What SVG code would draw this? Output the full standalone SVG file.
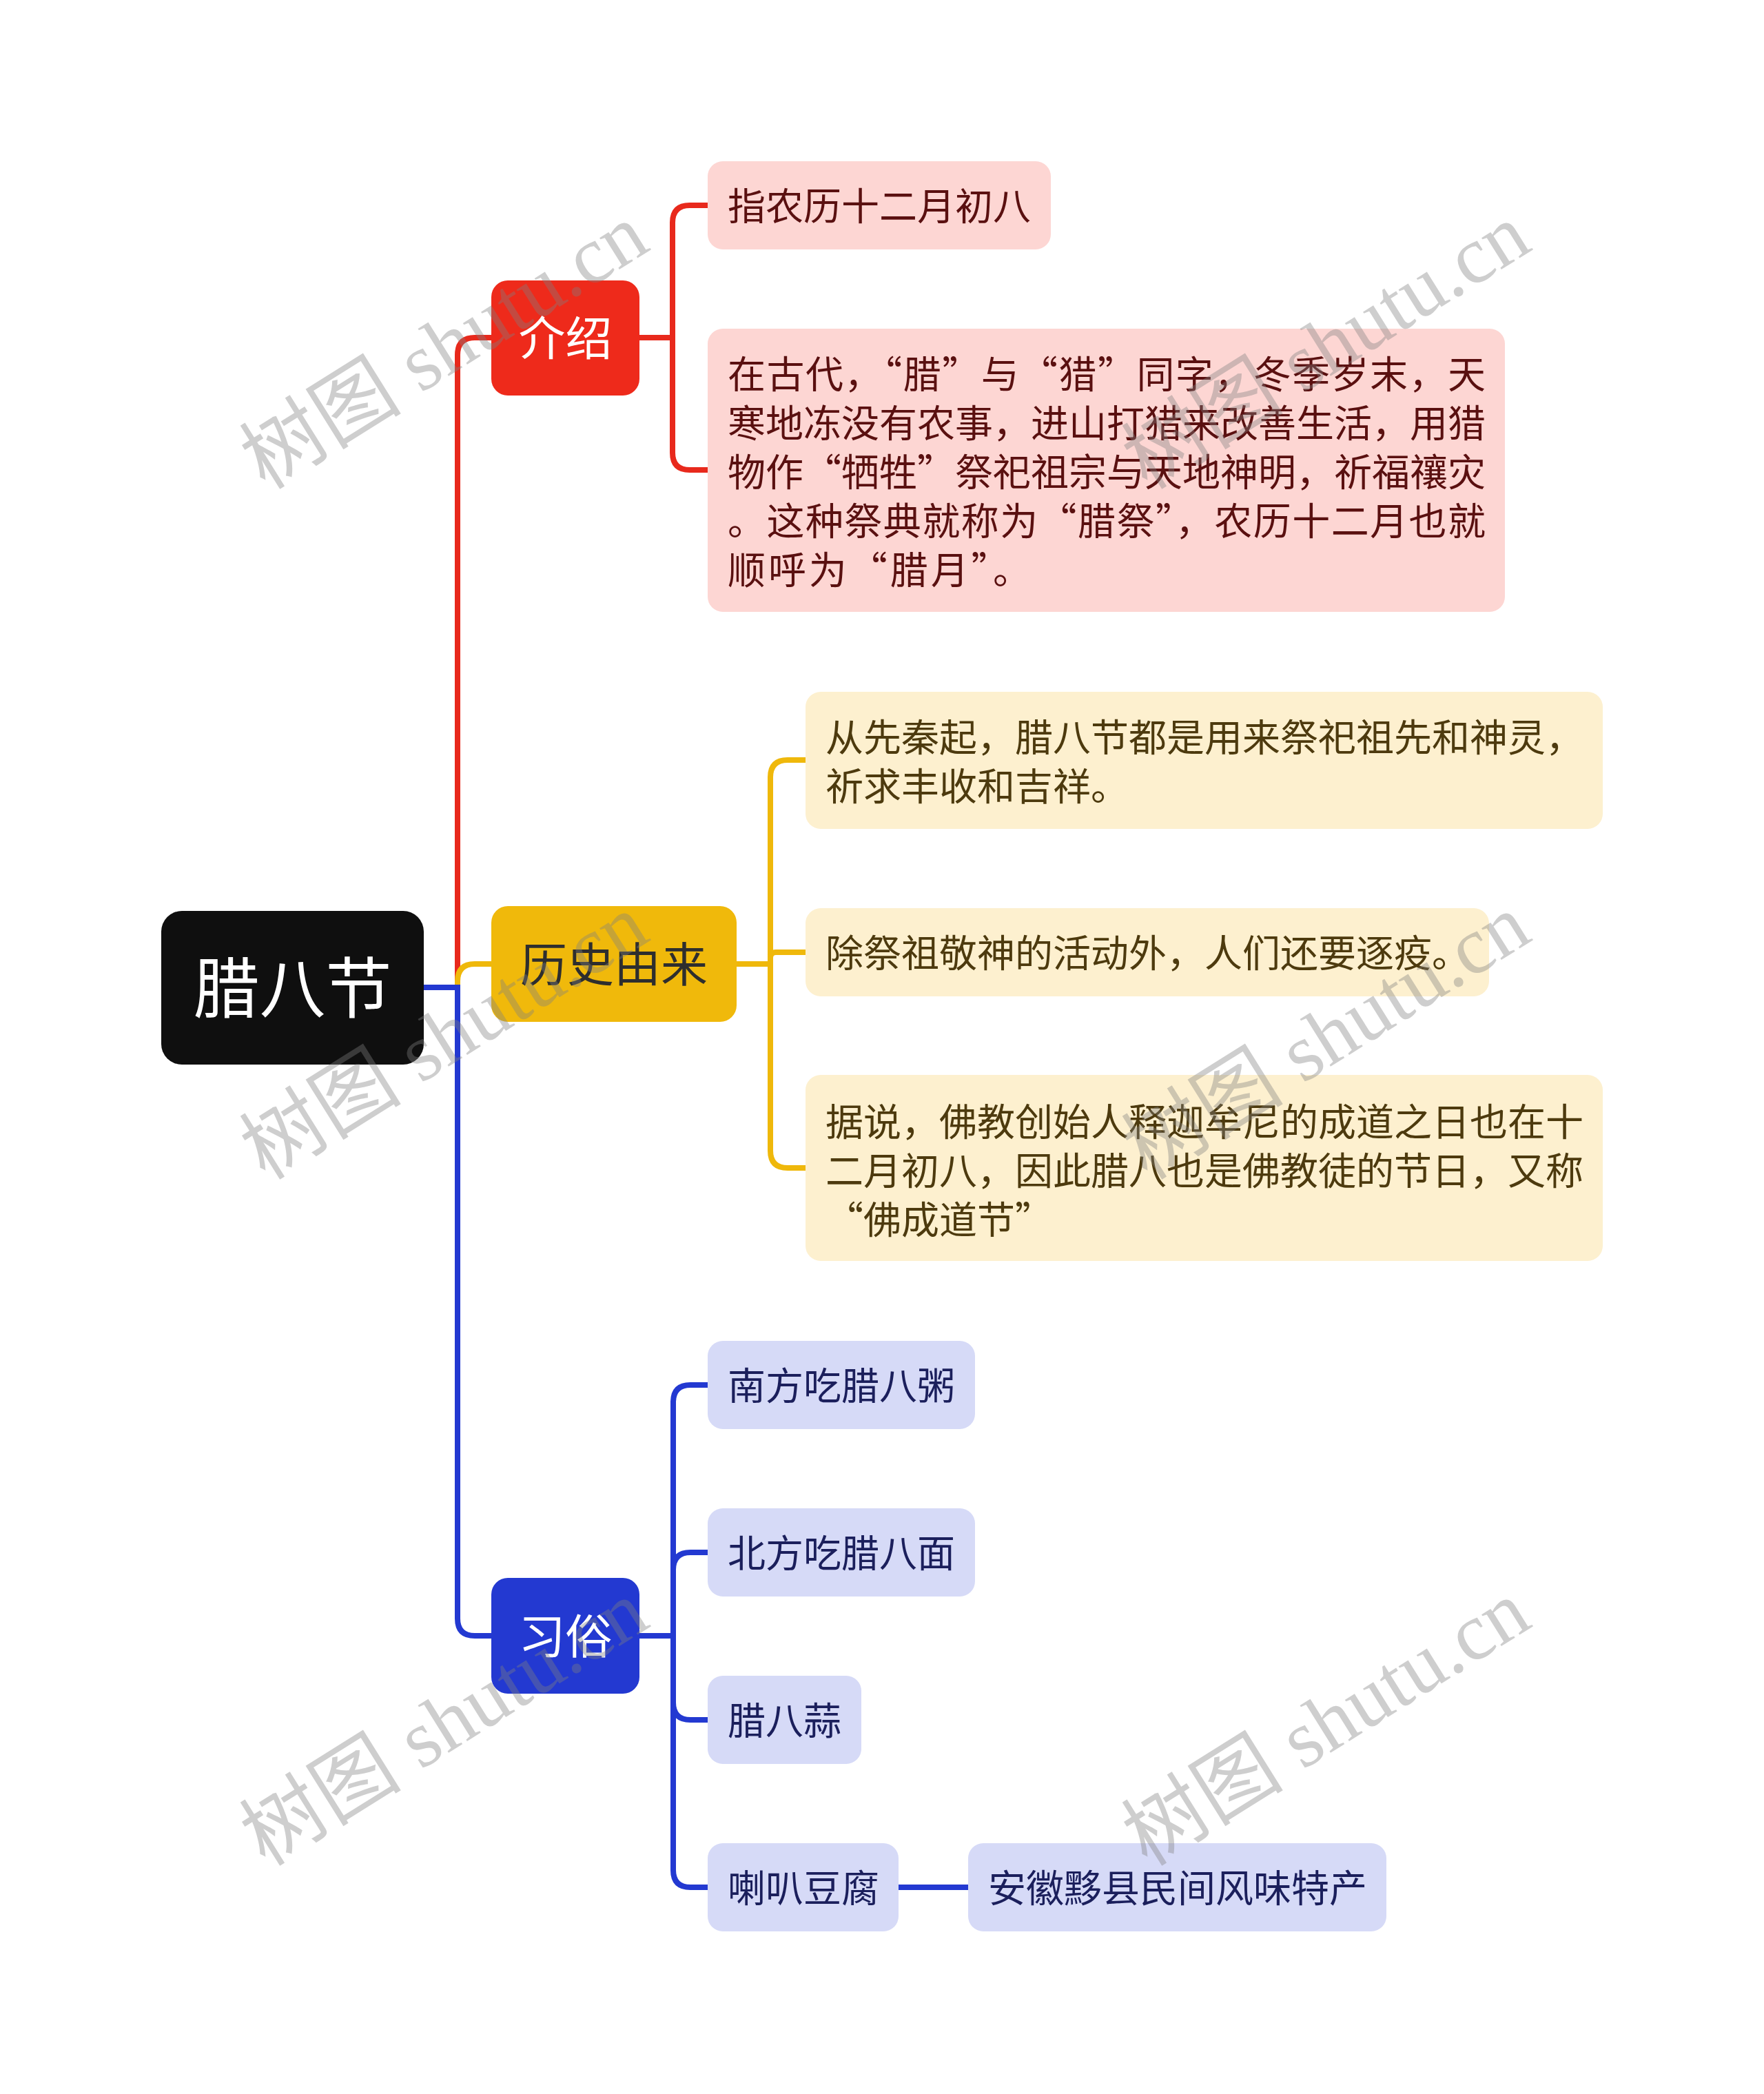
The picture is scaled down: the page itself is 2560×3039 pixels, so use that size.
<svg xmlns="http://www.w3.org/2000/svg" width="2560" height="3039" viewBox="0 0 2560 3039">
<style>
text{font-family:"Noto Sans CJK SC","Noto Sans CJK JP",sans-serif}
.t55{font-size:55px}
.red-c rect{fill:#fdd6d3}
.red-c text{fill:#5a1010}
.yel-c rect{fill:#fdf0cf}
.yel-c text{fill:#4d3a0e}
.blu-c rect{fill:#d6daf7}
.blu-c text{fill:#1b1f5c}
.main text{font-size:68px;text-anchor:middle}
.lnR{fill:none;stroke:#e8291c;stroke-width:8}
.lnY{fill:none;stroke:#efb80b;stroke-width:8}
.lnB{fill:none;stroke:#2339d1;stroke-width:8}
.wm{font-family:"Liberation Serif","Noto Sans CJK SC",serif;font-size:118px;fill:#808080;opacity:0.38}
</style>
<rect width="2560" height="3039" fill="#ffffff"/>

<g id="connectors">
  <path class="lnR" d="M615 1433 H664 V515 Q664 490 689 490 H713"/>
  <path class="lnY" d="M615 1433 H664 V1424 Q664 1399 689 1399 H713"/>
  <path class="lnB" d="M615 1433 H664 V2349 Q664 2374 689 2374 H713"/>
  <path class="lnR" d="M928 490 H976 V323 Q976 298 1001 298 H1027"/>
  <path class="lnR" d="M928 490 H976 V657 Q976 682 1001 682 H1027"/>
  <path class="lnY" d="M1069 1399 H1118 V1128 Q1118 1103 1143 1103 H1169"/>
  <path class="lnY" d="M1069 1399 H1118 V1390 Q1118 1382 1126 1382 H1169"/>
  <path class="lnY" d="M1069 1399 H1118 V1670 Q1118 1695 1143 1695 H1169"/>
  <path class="lnB" d="M928 2374 H977 V2035 Q977 2010 1002 2010 H1027"/>
  <path class="lnB" d="M928 2374 H977 V2278 Q977 2253 1002 2253 H1027"/>
  <path class="lnB" d="M928 2374 H977 V2471 Q977 2496 1002 2496 H1027"/>
  <path class="lnB" d="M928 2374 H977 V2714 Q977 2739 1002 2739 H1027"/>
  <path class="lnB" d="M1304 2739 H1405"/>
</g>

<g id="root">
  <rect x="234" y="1322" width="381" height="223" rx="30" fill="#0f0f0f"/>
  <text x="424.5" y="1469" font-size="96" fill="#ffffff" text-anchor="middle">腊八节</text>
</g>

<g id="n-intro" class="main">
  <rect x="713" y="407" width="215" height="167" rx="24" fill="#ee2a1b"/>
  <text x="820.5" y="516" fill="#ffffff">介绍</text>
</g>
<g id="n-history" class="main">
  <rect x="713" y="1315" width="356" height="168" rx="24" fill="#f0b90b"/>
  <text x="891" y="1425" fill="#2e2e2e">历史由来</text>
</g>
<g id="n-custom" class="main">
  <rect x="713" y="2290" width="215" height="168" rx="24" fill="#2339d1"/>
  <text x="820.5" y="2400" fill="#ffffff">习俗</text>
</g>

<g id="r1" class="red-c t55">
  <rect x="1027" y="234" width="498" height="128" rx="22"/>
  <text x="1056" y="319">指农历十二月初八</text>
</g>
<g id="r2" class="red-c t55">
  <rect x="1027" y="477" width="1157" height="411" rx="22"/>
  <text x="1056" y="563" textLength="1100" lengthAdjust="spacing">在古代，“腊”与“猎”同字，冬季岁末，天</text>
  <text x="1056" y="634" textLength="1100" lengthAdjust="spacing">寒地冻没有农事，进山打猎来改善生活，用猎</text>
  <text x="1056" y="705" textLength="1100" lengthAdjust="spacing">物作“牺牲”祭祀祖宗与天地神明，祈福禳灾</text>
  <text x="1056" y="776" textLength="1100" lengthAdjust="spacing">。这种祭典就称为“腊祭”，农历十二月也就</text>
  <text x="1056" y="847" textLength="440" lengthAdjust="spacing">顺呼为“腊月”。</text>
</g>

<g id="y1" class="yel-c t55">
  <rect x="1169" y="1004" width="1157" height="199" rx="22"/>
  <text x="1198" y="1090" textLength="1100" lengthAdjust="spacing">从先秦起，腊八节都是用来祭祀祖先和神灵，</text>
  <text x="1198" y="1161">祈求丰收和吉祥。</text>
</g>
<g id="y2" class="yel-c t55">
  <rect x="1169" y="1318" width="992" height="128" rx="22"/>
  <text x="1198" y="1403">除祭祖敬神的活动外，人们还要逐疫。</text>
</g>
<g id="y3" class="yel-c t55">
  <rect x="1169" y="1560" width="1157" height="270" rx="22"/>
  <text x="1198" y="1648" textLength="1100" lengthAdjust="spacing">据说，佛教创始人释迦牟尼的成道之日也在十</text>
  <text x="1198" y="1719" textLength="1100" lengthAdjust="spacing">二月初八，因此腊八也是佛教徒的节日，又称</text>
  <text x="1198" y="1790" textLength="330" lengthAdjust="spacing">“佛成道节”</text>
</g>

<g id="b1" class="blu-c t55">
  <rect x="1027" y="1946" width="388" height="128" rx="22"/>
  <text x="1056" y="2031">南方吃腊八粥</text>
</g>
<g id="b2" class="blu-c t55">
  <rect x="1027" y="2189" width="388" height="128" rx="22"/>
  <text x="1056" y="2274">北方吃腊八面</text>
</g>
<g id="b3" class="blu-c t55">
  <rect x="1027" y="2432" width="223" height="128" rx="22"/>
  <text x="1056" y="2517">腊八蒜</text>
</g>
<g id="b4" class="blu-c t55">
  <rect x="1027" y="2675" width="277" height="128" rx="22"/>
  <text x="1056" y="2760">喇叭豆腐</text>
</g>
<g id="b5" class="blu-c t55">
  <rect x="1405" y="2675" width="607" height="128" rx="22"/>
  <text x="1434" y="2760">安徽黟县民间风味特产</text>
</g>

<g id="watermarks">
  <text class="wm" x="385" y="712" transform="rotate(-32 385 712)">树图 shutu.cn</text>
  <text class="wm" x="1665" y="712" transform="rotate(-32 1665 712)">树图 shutu.cn</text>
  <text class="wm" x="385" y="1714" transform="rotate(-32 385 1714)">树图 shutu.cn</text>
  <text class="wm" x="1665" y="1714" transform="rotate(-32 1665 1714)">树图 shutu.cn</text>
  <text class="wm" x="385" y="2710" transform="rotate(-32 385 2710)">树图 shutu.cn</text>
  <text class="wm" x="1665" y="2710" transform="rotate(-32 1665 2710)">树图 shutu.cn</text>
</g>
</svg>
